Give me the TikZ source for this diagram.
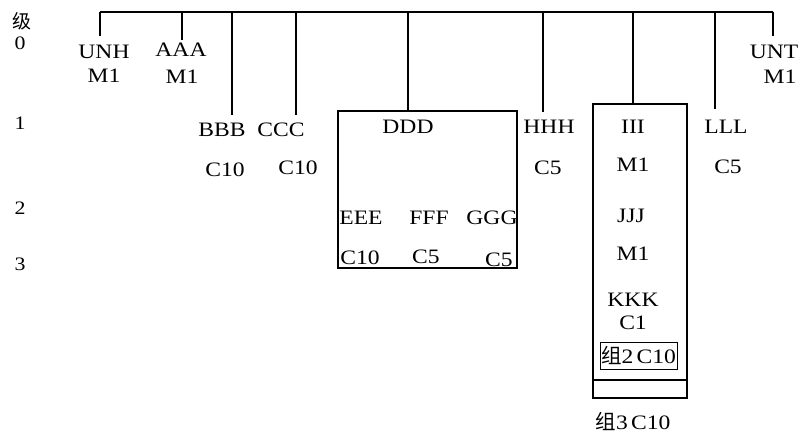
\documentclass[tikz,border=0pt]{standalone}
\usepackage{fontspec}
\setmainfont{Liberation Serif}[FakeStretch=1.15]
\newfontfamily\cjk{Noto Sans CJK SC}
\usepackage{tikz}
\usetikzlibrary{positioning, calc}
\tikzset{
  lbl/.style={inner sep=0pt, font=\fontsize{20.5}{24}\selectfont},
  lvl/.style={inner sep=0pt, font=\fontsize{19}{22}\selectfont},
  wire/.style={line width=1.1pt},
  grp/.style={draw, line width=1.1pt, inner sep=0pt},
}

\begin{document}
\begin{tikzpicture}[x=1pt, y=-1pt]
  \useasboundingbox (0,0) rectangle (801,442);

  % Level column
  \node[lvl] (lvl-head) at (22,21) {\cjk 级};
  \node[lvl] (lvl0) at (20,43) {0};
  \node[lvl] (lvl1) at (20,123) {1};
  \node[lvl] (lvl2) at (20,208) {2};
  \node[lvl] (lvl3) at (20,264) {3};

  % Bus
  \coordinate (bus-w) at (100,12);
  \coordinate (bus-e) at (773,12);
  \draw[wire] (bus-w) -- (bus-e);

  % Level 0 items
  \node[lbl] (unh) at (104,52) {UNH};
  \node[lbl] (unh-m) at (104,76) {M1};
  \node[lbl] (aaa) at (181,50) {AAA};
  \node[lbl] (aaa-m) at (182,77) {M1};
  \node[lbl] (unt) at (774,52) {UNT};
  \node[lbl] (unt-m) at (780,77) {M1};

  % Level 1 items
  \node[lbl] (bbb) at (222,130) {BBB};
  \node[lbl] (bbb-c) at (225,170) {C10};
  \node[lbl] (ccc) at (281,130) {CCC};
  \node[lbl] (ccc-c) at (298,168) {C10};
  \node[lbl] (hhh) at (549,127) {HHH};
  \node[lbl] (hhh-c) at (548,168) {C5};
  \node[lbl] (lll) at (726,127) {LLL};
  \node[lbl] (lll-c) at (728,167) {C5};

  % Group DDD
  \node[grp, minimum width=179pt, minimum height=157pt] (dbox) at (427.5,189.5) {};
  \node[lbl] (ddd) at (408,127) {DDD};
  \node[lbl] (eee) at (361,218) {EEE};
  \node[lbl] (fff) at (429,218) {FFF};
  \node[lbl] (ggg) at (492,218) {GGG};
  \node[lbl] (eee-c) at (360,258) {C10};
  \node[lbl] (fff-c) at (426,257) {C5};
  \node[lbl] (ggg-c) at (499,260) {C5};

  % Group III
  \node[grp, minimum width=94pt, minimum height=294pt] (ibox) at (640,251) {};
  \coordinate (isep-w) at (593,380);
  \coordinate (isep-e) at (687,380);
  \draw[wire] (isep-w) -- (isep-e);
  \node[lbl] (iii) at (633,127) {III};
  \node[lbl] (iii-m) at (633,165) {M1};
  \node[lbl] (jjj) at (631,216) {JJJ};
  \node[lbl] (jjj-m) at (633,254) {M1};
  \node[lbl] (kkk) at (633,300) {KKK};
  \node[lbl] (kkk-c) at (633,323) {C1};
  \node[grp, line width=1pt, minimum width=77pt, minimum height=27pt, lbl] (grp2) at (638.5,355.5) {{\cjk 组}2\,C10};
  \node[lbl] (grp3) at (633,421) {{\cjk 组}3\,C10};

  % Drops
  \draw[wire] (bus-w) -- ($(bus-w)+(0,24)$);
  \draw[wire] (bus-e) -- ($(bus-e)+(0,24)$);
  \draw[wire] (bus-w -| 182,0) -- (182,40);
  \draw[wire] (bus-w -| 232,0) -- (232,115);
  \draw[wire] (bus-w -| 296,0) -- (296,115);
  \draw[wire] (bus-w -| ddd.north) -- (ddd.north |- dbox.north);
  \draw[wire] (bus-w -| 543,0) -- (543,112);
  \draw[wire] (bus-w -| iii.north) -- (iii.north |- ibox.north);
  \draw[wire] (bus-w -| 715,0) -- (715,109);
\end{tikzpicture}
\end{document}
